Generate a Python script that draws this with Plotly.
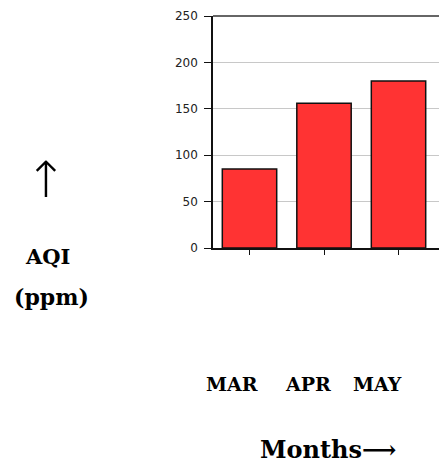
import plotly.graph_objects as go

months = ["MAR", "APR", "MAY"]
aqi = [85, 156, 180]
y_ticks = [0, 50, 100, 150, 200, 250]

W, H = 447, 469          # a bit wider than the window: right frame edge falls off-screen
L, T, B = 213, 16, 248   # plot area pixel edges
R = 447
PX_PER_CAT = 74.5
X0 = -0.49
X1 = X0 + (R - L) / PX_PER_CAT


def px(x):
    return (x - L) / (R - L)


def py(y):
    return (B - y) / (B - T)


fig = go.Figure()
fig.add_trace(go.Bar(
    x=months, y=aqi, width=0.73,
    marker=dict(color="#FF3333", line=dict(color="#111111", width=1.5)),
))

serif = "DejaVu Serif"
ann = []
label_x = [231.5, 307.5, 377.5]
for m, lx in zip(months, label_x):
    ann.append(dict(x=px(lx), y=py(384), xref="paper", yref="paper", text=m,
                    showarrow=False, xanchor="center", yanchor="middle",
                    font=dict(family=serif, size=19, color="#000", weight="bold")))
ann.append(dict(x=px(328), y=py(449), xref="paper", yref="paper", text="Months⟶",
                showarrow=False, xanchor="center", yanchor="middle",
                font=dict(family=serif, size=24, color="#000", weight="bold")))
ann.append(dict(x=px(46), y=py(180), xref="paper", yref="paper", text="↑",
                showarrow=False, xanchor="center", yanchor="middle",
                font=dict(family="DejaVu Sans", size=50, color="#000", weight=300)))
ann.append(dict(x=px(47), y=py(256), xref="paper", yref="paper", text="AQI",
                showarrow=False, xanchor="center", yanchor="middle",
                font=dict(family=serif, size=21, color="#000", weight="bold")))
ann.append(dict(x=px(51), y=py(297), xref="paper", yref="paper", text="(ppm)",
                showarrow=False, xanchor="center", yanchor="middle",
                font=dict(family=serif, size=22, color="#000", weight="bold")))

fig.update_layout(
    width=W, height=H,
    margin=dict(l=L, r=W - R, t=T, b=H - B, pad=0),
    paper_bgcolor="white", plot_bgcolor="white",
    showlegend=False,
    annotations=ann,
    bargap=0.27,
    shapes=[dict(type="line", xref="paper", yref="paper", x0=0, x1=1, y0=1, y1=1,
                 line=dict(color="#333", width=1.5), layer="above")],
)
fig.update_xaxes(
    range=[X0, X1], showticklabels=False,
    ticks="outside", ticklen=5, tickcolor="#111", tickwidth=1,
    showline=True, linecolor="#111", linewidth=1.5, mirror=False,
    showgrid=False, zeroline=False,
)
fig.update_yaxes(
    range=[0, 250], tickvals=y_ticks,
    ticks="outside", ticklen=7, tickcolor="#111", tickwidth=1,
    showline=True, linecolor="#111", linewidth=1.5, mirror=False,
    showgrid=True, gridcolor="#C8C8C8", gridwidth=1, zeroline=False,
    tickfont=dict(family="DejaVu Sans", size=12, color="#222"),
    ticklabelstandoff=4,
)

fig.write_html("out.html",
               config={"displayModeBar": False},
               post_script="document.body.style.margin='0';"
                           "document.body.style.overflow='hidden';")
